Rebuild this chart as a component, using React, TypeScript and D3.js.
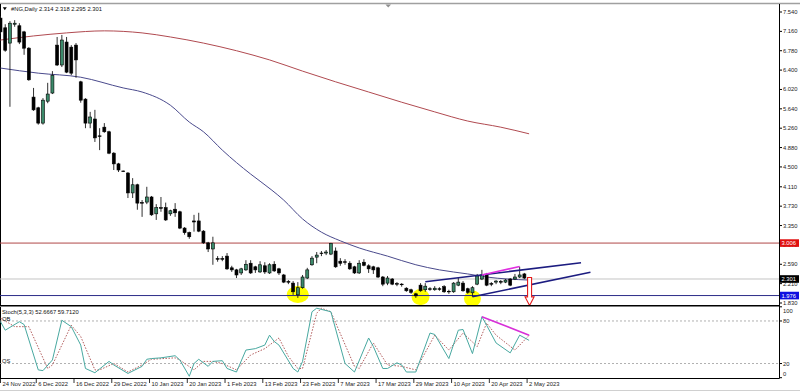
import React from 'react';
import * as d3 from 'd3';

const W = 800;
const H = 392;

// ---- OHLC (daily bars, 24 Nov 2022 .. 2 May 2023) ----
const opens = [7.42,7.23,6.93,7.30,7.27,7.15,6.83,5.87,5.66,5.36, 5.79,5.95,6.89,6.50,6.95,6.85,6.89,6.17,5.83,5.36, 5.44,5.11,5.28,5.19,4.77,4.56,4.42,4.38,3.99,4.15, 3.80,3.81,3.91,3.58,3.70,3.70,3.58,3.67,3.62,3.30, 3.21,3.44,3.44,3.24,3.01,2.89,2.70,2.70,2.75,2.52, 2.48,2.42,2.48,2.61,2.54,2.44,2.56,2.42,2.59,2.50, 2.38,2.25,2.22,1.99,2.13,2.32,2.58,2.73,2.81,2.81, 2.79,2.85,2.65,2.64,2.61,2.54,2.42,2.63,2.56,2.54, 2.52,2.34,2.22,2.30,2.21,2.20,2.12,2.09,2.01,2.18, 2.09,2.11,2.09,2.11,2.15,2.06,2.05,2.18,2.22,2.11, 2.03,2.20,2.30,2.38,2.21,2.24,2.25,2.24,2.30,2.30, 2.34,2.40,2.314];
const highs = [7.46,7.30,7.36,7.38,7.32,7.17,6.85,6.05,5.68,5.85, 6.15,6.38,7.05,7.09,7.05,6.89,6.93,6.19,5.85,5.58, 5.62,5.26,5.36,5.21,4.79,4.58,4.43,4.40,4.28,4.17, 3.85,4.11,3.93,3.77,3.91,3.80,3.66,3.79,3.64,3.32, 3.23,3.56,3.60,3.26,3.03,3.13,2.75,2.75,2.81,2.56, 2.50,2.52,2.67,2.67,2.56,2.65,2.63,2.61,2.65,2.52, 2.40,2.28,2.26,2.24,2.38,2.52,2.75,2.83,2.85,2.87, 3.01,2.92,2.71,2.69,2.65,2.56,2.67,2.69,2.59,2.56, 2.54,2.36,2.36,2.32,2.24,2.22,2.14,2.11,2.03,2.22, 2.22,2.14,2.16,2.14,2.18,2.09,2.24,2.32,2.26,2.13, 2.16,2.40,2.48,2.42,2.24,2.28,2.28,2.30,2.32,2.40, 2.54,2.42,2.318];
const lows = [7.11,6.76,5.68,7.25,6.91,6.70,6.19,5.60,5.33,5.33, 5.75,5.93,6.48,6.46,6.34,6.30,6.25,5.76,5.26,5.26, 4.99,4.83,5.17,4.75,4.44,4.40,4.40,3.89,3.89,3.66, 3.52,3.77,3.54,3.46,3.62,3.44,3.54,3.52,3.28,3.17, 3.09,3.23,3.22,2.99,2.83,2.58,2.64,2.65,2.48,2.44, 2.32,2.38,2.46,2.40,2.42,2.42,2.40,2.40,2.44,2.38, 2.22,2.20,1.99,1.93,2.11,2.30,2.56,2.61,2.75,2.77, 2.77,2.52,2.56,2.58,2.48,2.40,2.40,2.55,2.42,2.40, 2.32,2.16,2.18,2.18,2.16,2.15,2.05,2.01,1.93,2.05, 2.05,2.07,2.07,2.07,2.03,2.01,2.03,2.16,2.05,2.01, 1.95,2.18,2.28,2.16,2.16,2.20,2.20,2.22,2.16,2.28, 2.32,2.30,2.295];
const closes = [7.15,6.79,7.32,7.32,6.95,6.83,6.21,5.62,5.36,5.81, 5.93,6.30,6.50,6.99,6.36,6.34,6.60,5.81,5.36,5.48, 5.07,5.10,5.19,4.77,4.56,4.44,4.41,3.99,4.15,3.79, 3.79,3.91,3.56,3.70,3.69,3.46,3.64,3.60,3.30,3.21, 3.13,3.42,3.24,3.01,2.89,3.01,2.69,2.69,2.50,2.48, 2.38,2.50,2.59,2.42,2.48,2.58,2.44,2.58,2.46,2.42, 2.24,2.24,2.05,2.13,2.34,2.48,2.71,2.77,2.80,2.83, 3.00,2.54,2.61,2.63,2.50,2.42,2.61,2.57,2.50,2.48, 2.34,2.20,2.32,2.20,2.20,2.19,2.07,2.04,1.97,2.07, 2.16,2.10,2.12,2.10,2.05,2.05,2.22,2.24,2.07,2.04, 2.13,2.36,2.38,2.18,2.20,2.26,2.24,2.28,2.18,2.34, 2.38,2.32,2.301];

// ---- moving averages: [bar index, price] ----
const blueMA: [number, number][] = [[0,6.44],[8,6.34],[17,6.26],[26,6.05],[30,5.97],[36,5.71],[40,5.38],[43,5.19],[47,4.83],[53,4.36],[55,4.22],[60,3.85],[64,3.48],[68,3.22],[72,3.05],[76,2.91],[82,2.75],[88,2.58],[93,2.48],[99,2.40],[103,2.34],[112,2.28]];
const redMA: [number, number][] = [[0,6.99],[7,7.07],[14,7.13],[22,7.17],[30,7.13],[36,7.05],[43,6.93],[50,6.78],[57,6.60],[64,6.38],[71,6.17],[78,5.97],[85,5.77],[92,5.58],[99,5.40],[106,5.28],[112,5.15]];

// ---- Stochastic(5,3,3): [bar index, value] ----
const stochMain: [number, number][] = [[0,79],[1,67],[4,79],[5,75],[8,11],[9,10],[11,25],[13,81],[15,72],[17,46],[18,13],[20,7],[23,23],[24,18],[27,6],[30,16],[31,26],[32,27],[34,28],[37,31],[38,25],[40,2],[41,20],[42,26],[44,16],[45,23],[47,24],[48,13],[50,8],[52,39],[54,41],[56,46],[57,60],[58,51],[59,46],[62,13],[63,8],[64,23],[66,93],[67,98],[70,93],[73,20],[75,8],[78,56],[79,44],[81,13],[82,13],[84,21],[85,18],[86,8],[88,8],[91,63],[92,61],[95,27],[97,67],[98,68],[100,34],[102,86],[103,74],[105,49],[108,35],[110,60],[112,52.6667]];
const stochSignal: [number, number][] = [[0,84],[3,72],[6,72],[10,13],[11,18],[15,74],[17,58],[20,11],[21,11],[24,20],[27,8],[30,18],[32,26],[37,28],[38,25],[41,11],[43,23],[45,23],[47,20],[50,11],[53,32],[56,41],[59,56],[61,30],[63,13],[64,13],[67,91],[68,98],[70,93],[75,16],[76,13],[79,49],[82,18],[85,16],[88,11],[92,60],[95,39],[98,63],[101,44],[103,77],[105,60],[109,39],[112,59.712]];
const stochLevels = [80, 20];
const stochAxisLabels = [100, 80, 20, 0];

// ---- axes ----
const priceTicks = [7.540,7.160,6.780,6.400,6.020,5.640,5.260,4.880,4.500,4.110,3.730,3.350,2.970,2.590,2.210,1.830];
const dateLabels = ['24 Nov 2022','6 Dec 2022','16 Dec 2022','29 Dec 2022','10 Jan 2023','20 Jan 2023','1 Feb 2023','13 Feb 2023','23 Feb 2023','7 Mar 2023','17 Mar 2023','29 Mar 2023','10 Apr 2023','20 Apr 2023','2 May 2023'];

// ---- drawn objects ----
const resistanceLevel = 3.006;
const supportLevel = 1.976;
const lastPrice = 2.301;
const channelTop: [number, number][] = [[90,2.248],[123,2.62]];
const channelBottom: [number, number][] = [[100,1.953],[125,2.432]];
const divergencePrice: [number, number][] = [[102,2.38],[110,2.546]];
const divergenceStoch: [number, number][] = [[102,86],[112,60]];
const lowMarkers = [{ bar: 63, price: 1.996, rx: 11, ry: 8.5 }, { bar: 89, price: 1.947, rx: 9, ry: 8 }, { bar: 100, price: 1.918, rx: 8.5, ry: 8 }];
const arrowSpec = { bar: 112.1, from: 2.33, head: 1.95, to: 1.78 };

const FONT = '"Liberation Sans", Arial, sans-serif';
const FS = 5.8;

export default function App() {
  const AX = 779.5;
  const MAIN_TOP = 5, MAIN_BOT = 305;
  const ST_TOP = 307, ST_BOT = 378;
  const xs = d3.scaleLinear().domain([0, 112]).range([0.5, 529.1]);
  const ys = d3.scaleLinear().domain([1.83, 7.54]).range([303, 12]);
  const ss = d3.scaleLinear().domain([0, 100]).range([377.7, 306.8]);

  const maLine = d3.line<[number, number]>().x(d => xs(d[0])).y(d => ys(d[1])).curve(d3.curveMonotoneX);
  const stLine = d3.line<[number, number]>().x(d => xs(d[0])).y(d => ss(d[1]));
  const pLine = d3.line<[number, number]>().x(d => xs(d[0])).y(d => ys(d[1]));

  const ax = xs(arrowSpec.bar);
  const aTop = ys(arrowSpec.from), aHead = ys(arrowSpec.head), aTip = ys(arrowSpec.to);
  const arrowPath = `M${ax - 2},${aTop} L${ax + 2},${aTop} L${ax + 2},${aHead} L${ax + 4.5},${aHead} L${ax},${aTip} L${ax - 4.5},${aHead} L${ax - 2},${aHead} Z`;

  const boxLabel = (v: number, bg: string) => {
    const y = ys(v);
    return (
      <g key={bg}>
        <rect x={780} y={y - 3.8} width={19} height={7.6} fill={bg} />
        <text x={781.5} y={y} dominantBaseline="central" fontSize={FS} fill="#fff" fontFamily={FONT}>{v.toFixed(3)}</text>
      </g>
    );
  };

  return (
    <svg width={W} height={H} style={{ position: 'fixed', left: 0, top: 0, background: '#fff' }}>
      <defs>
        <clipPath id="mainClip"><rect x={0} y={MAIN_TOP} width={AX} height={MAIN_BOT - MAIN_TOP} /></clipPath>
        <clipPath id="stClip"><rect x={0} y={ST_TOP} width={AX} height={ST_BOT - ST_TOP} /></clipPath>
      </defs>
      <rect x={0} y={0} width={W} height={H} fill="#fff" />
      {/* frame */}
      <line x1={0} x2={W} y1={3.5} y2={3.5} stroke="#a0a0a0" strokeWidth={1.5} />
      <line x1={0.5} x2={0.5} y1={4} y2={ST_BOT + 0.5} stroke="#000" />

      {/* main panel */}
      <g clipPath="url(#mainClip)">
        {lowMarkers.map((m, i) => (
          <ellipse key={i} cx={xs(m.bar)} cy={ys(m.price)} rx={m.rx} ry={m.ry} fill="#ffff00" />
        ))}
        <line x1={0} x2={AX} y1={ys(resistanceLevel)} y2={ys(resistanceLevel)} stroke="#b04848" strokeWidth={1} />
        <line x1={0} x2={AX} y1={ys(supportLevel)} y2={ys(supportLevel)} stroke="#2c2c88" strokeWidth={1} />
        <line x1={0} x2={AX} y1={ys(lastPrice)} y2={ys(lastPrice)} stroke="#c4c4c4" strokeWidth={1} />
        <path d={maLine(redMA) || ''} fill="none" stroke="#b04a50" strokeWidth={1} />
        <path d={maLine(blueMA) || ''} fill="none" stroke="#4a4a8c" strokeWidth={1} />
        {opens.map((o, i) => {
          const c = closes[i];
          const x = xs(i);
          const bull = c > o;
          const top = ys(Math.max(o, c));
          const bot = ys(Math.min(o, c));
          return (
            <g key={i}>
              <line x1={x} x2={x} y1={ys(highs[i])} y2={ys(lows[i])} stroke="#1a1a1a" strokeWidth={0.9} />
              <rect x={x - 1.5} y={top} width={3} height={Math.max(bot - top, 0.6)} fill={bull ? '#3b8a6a' : '#000'} stroke="#000" strokeWidth={0.6} />
            </g>
          );
        })}
        <path d={pLine(channelTop) || ''} stroke="#1c1c80" strokeWidth={1.5} fill="none" />
        <path d={pLine(channelBottom) || ''} stroke="#1c1c80" strokeWidth={1.5} fill="none" />
        <path d={pLine(divergencePrice) || ''} stroke="#e030e0" strokeWidth={1.6} fill="none" />
      </g>
      <path d={arrowPath} fill="#fff" stroke="#e41c1c" strokeWidth={1.1} />

      {/* title */}
      <path d="M2.8,7.3 L6.8,7.3 L4.8,10.2 Z" fill="#000" />
      <text x={11} y={9} dominantBaseline="central" fontSize={FS} fontFamily={FONT} fill="#111">#NG,Daily  2.314 2.318 2.295 2.301</text>
      <path d="M385.5,4.5 L391,4.5 L388.2,7.5 Z" fill="#909090" />

      {/* separator */}
      <line x1={0} x2={AX} y1={MAIN_BOT + 0.5} y2={MAIN_BOT + 0.5} stroke="#000" />
      <line x1={0} x2={AX} y1={MAIN_BOT + 1.5} y2={MAIN_BOT + 1.5} stroke="#808080" />

      {/* stochastic panel */}
      <g clipPath="url(#stClip)">
        {stochLevels.map(l => (
          <line key={l} x1={0} x2={AX} y1={ss(l)} y2={ss(l)} stroke="#9a9a9a" strokeWidth={0.8} strokeDasharray="2,2" />
        ))}
        <path d={stLine(stochSignal) || ''} fill="none" stroke="#a84848" strokeWidth={0.9} strokeDasharray="1.5,1.5" />
        <path d={stLine(stochMain) || ''} fill="none" stroke="#48a8a0" strokeWidth={1} />
        <path d={stLine(divergenceStoch) || ''} fill="none" stroke="#d830d8" strokeWidth={1.6} />
      </g>
      <text x={2} y={312} dominantBaseline="central" fontSize={FS} fontFamily={FONT} fill="#111">Stoch(5,3,3) 52.6667 59.7120</text>
      <text x={2} y={318.5} dominantBaseline="central" fontSize={FS} fontFamily={FONT} fill="#111">OB</text>
      <text x={2} y={361} dominantBaseline="central" fontSize={FS} fontFamily={FONT} fill="#111">OS</text>
      <line x1={0} x2={AX} y1={ST_BOT + 0.5} y2={ST_BOT + 0.5} stroke="#000" />

      {/* price axis */}
      <line x1={AX} x2={AX} y1={4} y2={ST_BOT + 0.5} stroke="#000" />
      {priceTicks.map(t => (
        <g key={t}>
          <line x1={AX} x2={AX + 2.5} y1={ys(t)} y2={ys(t)} stroke="#000" />
          <text x={783} y={ys(t)} dominantBaseline="central" fontSize={FS} fontFamily={FONT} fill="#222">{t.toFixed(3)}</text>
        </g>
      ))}
      {boxLabel(resistanceLevel, '#e01010')}
      {boxLabel(lastPrice, '#000')}
      {boxLabel(supportLevel, '#1010e0')}
      {stochAxisLabels.map(v => {
        const y = Math.min(Math.max(ss(v), 310.5), 374);
        return (
          <g key={v}>
            <line x1={AX} x2={AX + 2.5} y1={ss(v)} y2={ss(v)} stroke="#000" />
            <text x={783} y={y} dominantBaseline="central" fontSize={FS} fontFamily={FONT} fill="#222">{v}</text>
          </g>
        );
      })}

      {/* time axis */}
      {dateLabels.map((d, k) => {
        const tx = Math.max(xs(k * 8) - 2, 0.5);
        return (
          <g key={d}>
            <line x1={tx} x2={tx} y1={ST_BOT} y2={ST_BOT + 5} stroke="#000" strokeWidth={0.8} />
            <text x={tx + 2} y={383.5} dominantBaseline="central" fontSize={FS} fontFamily={FONT} fill="#222">{d}</text>
          </g>
        );
      })}
      <line x1={0} x2={W} y1={390.5} y2={390.5} stroke="#d0d0d0" />
    </svg>
  );
}
